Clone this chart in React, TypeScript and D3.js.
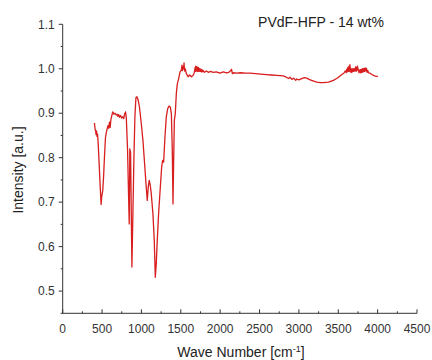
import React from "react";
import * as d3 from "d3";

// [wavenumber (cm^-1), intensity (a.u.)]
const fingerprintRegion: [number, number][] = [
  [403, 0.878], [410, 0.866], [420, 0.858], [424, 0.852], [430, 0.860], [436, 0.848], [442, 0.853], [450, 0.835],
  [462, 0.790], [475, 0.740], [488, 0.695], [495, 0.712], [509, 0.726], [520, 0.760], [530, 0.800], [543, 0.845],
  [560, 0.862], [575, 0.872], [584, 0.866], [594, 0.880], [603, 0.868], [612, 0.886], [620, 0.892], [635, 0.903],
  [650, 0.898], [665, 0.900], [679, 0.896], [690, 0.898], [700, 0.893], [710, 0.897], [722, 0.891], [735, 0.895],
  [750, 0.889], [764, 0.892], [775, 0.888], [788, 0.899], [798, 0.903], [808, 0.890], [824, 0.817], [836, 0.719],
  [845, 0.651], [853, 0.820], [862, 0.812], [870, 0.689], [879, 0.554], [888, 0.640], [904, 0.794], [917, 0.892],
  [930, 0.935], [943, 0.937], [959, 0.929], [975, 0.914], [998, 0.877], [1019, 0.839], [1040, 0.787], [1061, 0.734],
  [1074, 0.704], [1087, 0.735], [1099, 0.749], [1112, 0.738], [1125, 0.719], [1146, 0.674], [1163, 0.614], [1176, 0.531],
  [1188, 0.560], [1201, 0.614], [1218, 0.674], [1240, 0.734], [1257, 0.779], [1269, 0.794], [1282, 0.790], [1299, 0.847],
  [1316, 0.892], [1333, 0.910], [1350, 0.916], [1367, 0.914], [1380, 0.899], [1392, 0.817], [1401, 0.696], [1409, 0.790],
  [1418, 0.884], [1430, 0.899], [1443, 0.944], [1456, 0.966], [1473, 0.978], [1490, 0.993],
];

const plateauRegion: [number, number][] = [
  [1507, 0.997], [1515, 1.008], [1520, 0.996], [1528, 1.004], [1535, 1.000], [1541, 1.013], [1548, 0.995], [1556, 1.000],
  [1571, 0.989], [1592, 0.982], [1612, 0.986], [1634, 0.982], [1655, 0.985], [1670, 0.990], [1677, 0.997], [1682, 1.003],
  [1686, 0.994], [1690, 1.006], [1694, 0.996], [1698, 1.005], [1702, 0.995], [1706, 1.004], [1710, 0.994], [1714, 1.002],
  [1718, 0.995], [1722, 1.003], [1727, 0.994], [1732, 1.001], [1737, 0.995], [1742, 1.000], [1748, 0.994], [1755, 0.999],
  [1762, 0.993], [1770, 0.998], [1778, 0.993], [1785, 0.996], [1800, 0.992], [1825, 0.995], [1850, 0.992], [1880, 0.994],
  [1910, 0.992], [1950, 0.993], [1995, 0.990], [2040, 0.993], [2080, 0.991], [2110, 0.992], [2135, 0.996], [2144, 0.999],
  [2155, 0.989], [2170, 0.991], [2207, 0.990], [2260, 0.991], [2320, 0.990], [2377, 0.990], [2450, 0.989], [2520, 0.988],
  [2589, 0.987], [2650, 0.986], [2720, 0.985], [2802, 0.984], [2840, 0.981], [2870, 0.978], [2887, 0.981], [2910, 0.976],
  [2935, 0.979], [2960, 0.974], [2972, 0.977], [3000, 0.975], [3035, 0.978], [3070, 0.980], [3099, 0.979], [3130, 0.976],
];

const hydroxylRegion: [number, number][] = [
  [3160, 0.974], [3190, 0.972], [3226, 0.970], [3270, 0.969], [3311, 0.969], [3375, 0.970], [3438, 0.974], [3480, 0.978],
  [3502, 0.981], [3545, 0.987], [3570, 0.990], [3590, 0.995], [3600, 0.991], [3608, 0.999], [3615, 0.993], [3622, 1.003],
  [3630, 0.994], [3636, 1.006], [3642, 0.995], [3648, 1.009], [3654, 0.993], [3660, 1.001], [3666, 0.992], [3672, 0.999],
  [3680, 0.993], [3688, 1.001], [3696, 0.994], [3705, 1.000], [3712, 0.995], [3720, 1.004], [3728, 0.994], [3736, 1.003],
  [3744, 1.006], [3750, 0.996], [3756, 0.999], [3763, 0.991], [3770, 0.993], [3778, 0.998], [3786, 0.991], [3794, 0.999],
  [3802, 0.992], [3810, 1.000], [3818, 0.993], [3826, 1.001], [3834, 0.994], [3842, 1.002], [3850, 0.995], [3858, 1.001],
  [3866, 0.992], [3875, 0.996], [3884, 0.991], [3905, 0.990], [3927, 0.987], [3960, 0.984], [3990, 0.983], [4003, 0.982],
];

const xTicks: number[] = [0, 500, 1000, 1500, 2000, 2500, 3000, 3500, 4000, 4500];
const yTicks: number[] = [0.5, 0.6, 0.7, 0.8, 0.9, 1.0, 1.1];
const xMinor: number[] = [250, 750, 1250, 1750, 2250, 2750, 3250, 3750, 4250];
const yMinor: number[] = [0.55, 0.65, 0.75, 0.85, 0.95, 1.05];

const title = "PVdF-HFP - 14 wt%";

export default function App() {
  const W = 432, H = 360;
  const left = 62.7, right = 417, top = 24.3, bottom = 313.3;
  const x = d3.scaleLinear().domain([0, 4500]).range([left, right]);
  const y = d3.scaleLinear().domain([0.45, 1.1]).range([bottom, top]);
  const pts = [...fingerprintRegion, ...plateauRegion, ...hydroxylRegion];
  const line = d3.line<[number, number]>().x(d => x(d[0])).y(d => y(d[1]));
  const axisColor = "#333";
  const font = "Liberation Sans, Arial, sans-serif";
  return (
    <svg width={W} height={H} style={{ position: "absolute", left: 0, top: 0, background: "#fff" }} fontFamily={font}>
      <rect x={0} y={0} width={W} height={H} fill="#fff" />
      <path d={line(pts) ?? ""} fill="none" stroke="#d81e1e" strokeWidth={1.3} strokeLinejoin="round" />
      {/* y axis */}
      <line x1={left} x2={left} y1={y(1.1)} y2={bottom} stroke={axisColor} strokeWidth={1} />
      {yTicks.map(t => (
        <g key={"yt" + t}>
          <line x1={left - 4} x2={left} y1={y(t)} y2={y(t)} stroke={axisColor} />
          <text x={left - 8} y={y(t)} dy="0.35em" textAnchor="end" fontSize={12} fill="#333">{t.toFixed(1)}</text>
        </g>
      ))}
      {yMinor.map(t => (
        <line key={"ym" + t} x1={left - 2} x2={left} y1={y(t)} y2={y(t)} stroke={axisColor} />
      ))}
      {/* x axis */}
      <line x1={left - 2} x2={right} y1={bottom} y2={bottom} stroke={axisColor} strokeWidth={1} />
      {xTicks.map(t => (
        <g key={"xt" + t}>
          <line x1={x(t)} x2={x(t)} y1={bottom - 4} y2={bottom} stroke={axisColor} />
          <text x={x(t)} y={332.5} textAnchor="middle" fontSize={12} fill="#333">{t}</text>
        </g>
      ))}
      {xMinor.map(t => (
        <line key={"xm" + t} x1={x(t)} x2={x(t)} y1={bottom - 2} y2={bottom} stroke={axisColor} />
      ))}
      <text x={321} y={27} textAnchor="middle" fontSize={14} fill="#222">{title}</text>
      <text x={241} y={357} textAnchor="middle" fontSize={14} fill="#222">
        Wave Number [cm<tspan dy={-5} fontSize={9}>-1</tspan><tspan dy={5}>]</tspan>
      </text>
      <text transform={`translate(23,170) rotate(-90)`} textAnchor="middle" fontSize={14} fill="#222">Intensity [a.u.]</text>
    </svg>
  );
}
